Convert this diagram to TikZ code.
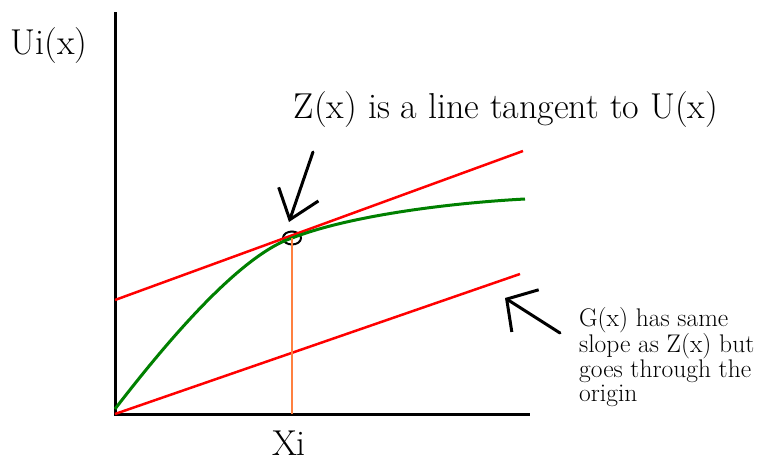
\documentclass[tikz,border=0pt]{standalone}
\usetikzlibrary{arrows.meta, shapes.geometric, positioning}

\definecolor{curvegreen}{RGB}{0,128,0}
\definecolor{dropline}{RGB}{255,128,64}

\begin{document}
\begin{tikzpicture}[x=1pt, y=-1pt,
    every node/.style={inner sep=0pt},
    bigtext/.style={font=\fontsize{36}{40}\selectfont},
    smalltext/.style={font=\fontsize{25.5}{24.5}\selectfont, align=left},
    axis/.style={line width=3pt},
    redline/.style={red, line width=2.5pt},
    pointer/.style={line width=3pt, line cap=round, -{Straight Barb[length=27pt, width=42pt]}}]
            \useasboundingbox (0,0) rectangle (769,463);

            % Nodes
            \node[bigtext] (uilabel) at (49,46) {Ui(x)};
            \node[bigtext] (zlabel) at (506,110) {Z(x) is a line tangent to U(x)};
            \node[bigtext] (xilabel) at (289,443) {Xi};
            \node[smalltext, anchor=north west] (glabel) at (579,307)
                {G(x) has same\\slope as Z(x) but\\goes through the\\origin};
            \node[draw, ellipse, line width=2pt, minimum width=18pt, minimum height=13pt] (tanpt) at (292,238) {};

            \coordinate (O) at (115,414);
            \coordinate (ytop) at (115,12);
            \coordinate (xend) at (530,414);
            \coordinate (zstart) at (115,300);
            \coordinate (zend) at (523,151);
            \coordinate (gend) at (520,274);
            \coordinate (ustart) at (115,409);
            \coordinate (uend) at (525,199);
            \coordinate (ztail) at (313,152);
            \coordinate (ztip) at (289,222);
            \coordinate (gtail) at (560,333);
            \coordinate (gtip) at (505,298);

            % Edges
            \draw[axis] (ytop) -- (O) -- (xend);
            \draw[redline] (zstart) -- (zend);
            \draw[redline] (O) -- (gend);
            \draw[curvegreen, line width=3pt] (ustart) .. controls (162,348) and (238,256) .. (tanpt.center)
                .. controls (350,215.5) and (450,203) .. (uend);
            \draw[dropline, line width=2pt] (O -| tanpt) -- (tanpt.center);
            \draw[pointer] (ztail) -- (ztip);
            \draw[pointer, {-Straight Barb[length=22pt, width=50pt]}] (gtail) -- (gtip);
        \end{tikzpicture}
\end{document}
